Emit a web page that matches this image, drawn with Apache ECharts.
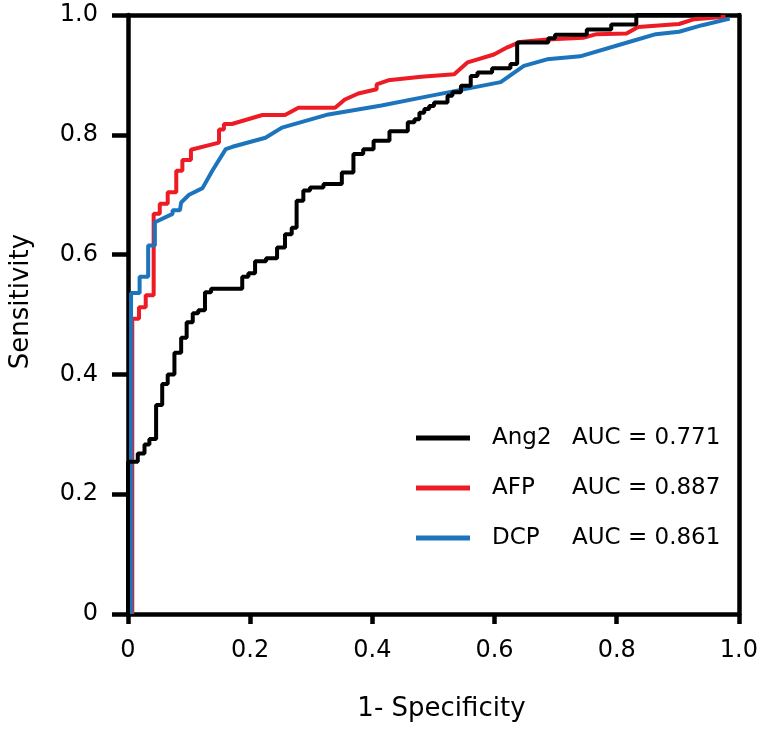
<!DOCTYPE html>
<html>
<head>
<meta charset="utf-8">
<script src="https://cdn.jsdelivr.net/npm/echarts@6/dist/echarts.min.js"></script>
<style>html,body{margin:0;padding:0;background:#fff}#c{width:761px;height:731px}</style>
</head>
<body>
<div id="c"></div>
<script>
const seriesNames = ['Ang2', 'AFP', 'DCP'];
const aucValues = ['0.771', '0.887', '0.861'];
const seriesColors = ['#000000', '#ED1C24', '#1C75BC'];
const xTicks = [0, 0.2, 0.4, 0.6, 0.8, 1.0];
const yTicks = [0, 0.2, 0.4, 0.6, 0.8, 1.0];

// Ang2 (stepped ROC points)
const ang2X = [0,0,0.016,0.027,0.035,0.046,0.056,0.065,0.076,0.087,0.096,0.106,0.115,0.126,0.136,0.187,0.197,0.208,0.226,0.244,0.257,0.268,0.276,0.287,0.298,0.320,0.350,0.369,0.385,0.402,0.428,0.458,0.469,0.477,0.485,0.493,0.501,0.523,0.531,0.545,0.561,0.572,0.596,0.626,0.637,0.688,0.699,0.751,0.791,0.832,0.970];
const ang2Y = [0,0.254,0.268,0.283,0.292,0.349,0.384,0.400,0.436,0.461,0.487,0.502,0.507,0.537,0.543,0.563,0.569,0.589,0.594,0.612,0.634,0.645,0.690,0.707,0.712,0.718,0.737,0.768,0.776,0.790,0.806,0.821,0.826,0.837,0.843,0.848,0.854,0.865,0.871,0.882,0.898,0.904,0.911,0.918,0.954,0.961,0.967,0.976,0.984,1.000,1.000];

// AFP
const afpX = [0.007,0.007,0.018,0.018,0.029,0.029,0.042,0.042,0.052,0.052,0.065,0.065,0.079,0.079,0.089,0.089,0.103,0.103,0.149,0.149,0.157,0.157,0.170,0.220,0.257,0.279,0.339,0.355,0.377,0.407,0.407,0.426,0.480,0.534,0.556,0.599,0.621,0.642,0.686,0.745,0.767,0.816,0.835,0.902,0.927,0.978];
const afpY = [0,0.493,0.493,0.512,0.512,0.532,0.532,0.668,0.668,0.685,0.685,0.704,0.704,0.740,0.740,0.758,0.758,0.775,0.787,0.809,0.809,0.818,0.818,0.833,0.833,0.845,0.845,0.859,0.869,0.876,0.884,0.891,0.897,0.901,0.921,0.934,0.946,0.955,0.959,0.962,0.968,0.969,0.980,0.985,0.993,0.997];

// DCP
const dcpX = [0.005,0.005,0.019,0.019,0.033,0.033,0.044,0.044,0.073,0.073,0.085,0.087,0.100,0.122,0.138,0.160,0.171,0.225,0.252,0.328,0.415,0.480,0.610,0.648,0.686,0.740,0.827,0.864,0.902,0.940,0.985];
const dcpY = [0,0.536,0.536,0.563,0.563,0.615,0.615,0.654,0.668,0.674,0.674,0.687,0.700,0.711,0.740,0.776,0.780,0.795,0.812,0.834,0.849,0.862,0.888,0.915,0.926,0.931,0.957,0.968,0.972,0.983,0.994];

const zip = (xs, ys) => xs.map((x, i) => [x, ys[i]]);
const FONT = 'DejaVu Sans';
const fmt = v => (v === 0 ? '0' : v.toFixed(1));

const chart = echarts.init(document.getElementById('c'), null, {renderer: 'canvas'});
const lineBase = {type: 'line', showSymbol: false, symbol: 'none', animation: false};
const AXW = 4.5;

chart.setOption({
  backgroundColor: '#ffffff',
  animation: false,
  grid: {left: 125, right: 21, top: 15, bottom: 117},
  legend: {
    orient: 'vertical',
    left: 411,
    top: 419,
    icon: 'rect',
    itemWidth: 54,
    itemHeight: 5,
    itemGap: 22,
    data: seriesNames,
    formatter: name => {
      const i = seriesNames.indexOf(name);
      return '{n|' + name + '}{a|AUC = ' + aucValues[i] + '}';
    },
    textStyle: {
      fontFamily: FONT, fontSize: 23, color: '#000', padding: [0, 0, 0, 17],
      rich: {
        n: {fontFamily: FONT, fontSize: 23, color: '#000', width: 80, lineHeight: 28, height: 28},
        a: {fontFamily: FONT, fontSize: 23, color: '#000', lineHeight: 28, height: 28}
      }
    }
  },
  xAxis: [{
    type: 'value', min: 0, max: 1, interval: 0.2,
    name: '1- Specificity', nameLocation: 'middle', nameGap: 82,
    nameTextStyle: {fontFamily: FONT, fontSize: 26, color: '#000', padding: [0, 0, 0, 16]},
    axisLine: {show: true, onZero: false, lineStyle: {color: '#000', width: AXW}},
    axisTick: {show: true, length: 10, lineStyle: {color: '#000', width: AXW}},
    axisLabel: {margin: 25, fontFamily: FONT, fontSize: 24, color: '#000', formatter: fmt,
      customValues: xTicks},
    splitLine: {show: false}
  }, {
    type: 'value', min: 0, max: 1, position: 'top',
    axisLine: {show: true, onZero: false, lineStyle: {color: '#000', width: AXW}},
    axisTick: {show: false}, axisLabel: {show: false}, splitLine: {show: false}
  }],
  yAxis: [{
    type: 'value', min: 0, max: 1, interval: 0.2,
    name: 'Sensitivity', nameLocation: 'middle', nameGap: 94,
    nameTextStyle: {fontFamily: FONT, fontSize: 26, color: '#000', padding: [0, 0, 0, 26]},
    axisLine: {show: true, onZero: false, lineStyle: {color: '#000', width: AXW}},
    axisTick: {show: true, length: 16, lineStyle: {color: '#000', width: AXW}},
    axisLabel: {margin: 30, fontFamily: FONT, fontSize: 24, color: '#000', formatter: fmt,
      customValues: yTicks},
    splitLine: {show: false}
  }, {
    type: 'value', min: 0, max: 1, position: 'right',
    axisLine: {show: true, onZero: false, lineStyle: {color: '#000', width: AXW}},
    axisTick: {show: false}, axisLabel: {show: false}, splitLine: {show: false}
  }],
  series: [
    Object.assign({}, lineBase, {name: 'AFP', data: zip(afpX, afpY), z: 2,
      color: seriesColors[1], lineStyle: {color: seriesColors[1], width: 4}}),
    Object.assign({}, lineBase, {name: 'DCP', data: zip(dcpX, dcpY), z: 3,
      color: seriesColors[2], lineStyle: {color: seriesColors[2], width: 4}}),
    Object.assign({}, lineBase, {name: 'Ang2', data: zip(ang2X, ang2Y), step: 'end', z: 4,
      color: seriesColors[0], lineStyle: {color: seriesColors[0], width: 4}})
  ]
});
</script>
</body>
</html>
